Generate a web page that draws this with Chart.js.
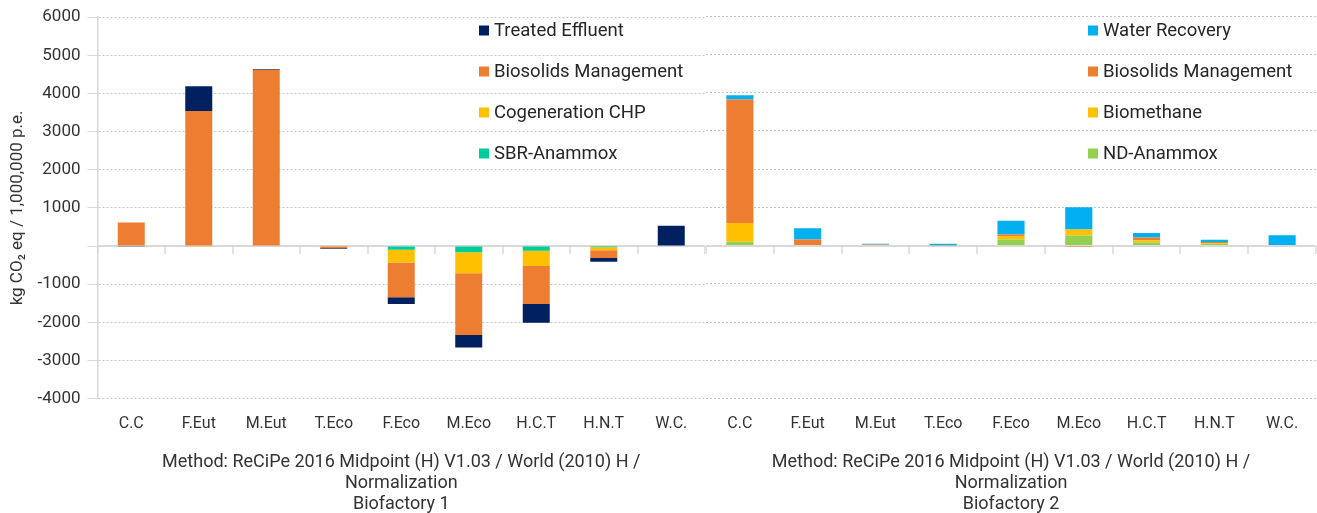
<!DOCTYPE html>
<html>
<head>
<meta charset="utf-8">
<script src="https://cdn.jsdelivr.net/npm/chart.js@4.4.1/dist/chart.umd.min.js"></script>
<style>
  html, body { margin: 0; padding: 0; background: #fff; }
  .wrap { position: relative; width: 1317px; height: 513px; }
  .panel { position: absolute; top: 0; height: 513px; }
  #bf1 { left: 0; width: 706px; }
  #bf2 { left: 706px; width: 611px; }
</style>
</head>
<body>
<div class="wrap">
  <div class="panel" id="bf1"><canvas id="chart1"></canvas></div>
  <div class="panel" id="bf2"><canvas id="chart2"></canvas></div>
</div>
<script>
const categories = ['C.C', 'F.Eut', 'M.Eut', 'T.Eco', 'F.Eco', 'M.Eco', 'H.C.T', 'H.N.T', 'W.C.'];
const yTicks = [-4000, -3000, -2000, -1000, 0, 1000, 2000, 3000, 4000, 5000, 6000];

// Biofactory 1 (bottom of stack first)
const sbrAnammox1 = [0, 0, 0, 0, -100, -160, -120, -30, 0];
const cogenerationChp1 = [0, -20, 0, 0, -330, -550, -400, -80, 0];
const biosolids1 = [620, 3540, 4620, -60, -910, -1620, -1000, -200, -15];
const treatedEffluent1 = [-20, 650, 20, -20, -180, -330, -490, -100, 530];

// Biofactory 2
const ndAnammox2 = [100, 0, 0, 0, 160, 260, 80, 45, 0];
const biomethane2 = [490, 0, 0, 0, 90, 160, 60, 25, 0];
const biosolids2 = [3230, 160, 30, 10, 40, -25, 70, 25, -10];
const waterRecovery2 = [110, 290, 15, 40, 360, 580, 120, 55, 270];

const methodTitle = 'Method: ReCiPe 2016 Midpoint (H) V1.03 / World (2010) H /';

Chart.defaults.font.family = 'Roboto, "Noto Sans", sans-serif';
Chart.defaults.color = '#333333';

// zero line + little category ticks hanging under it
const zeroLine = {
  id: 'zeroLine',
  beforeDatasetsDraw(chart) {
    const { ctx, chartArea, scales: { x, y } } = chart;
    const y0 = Math.round(y.getPixelForValue(0));
    ctx.save();
    ctx.strokeStyle = '#d9d9d9';
    ctx.lineWidth = 2;
    ctx.beginPath();
    ctx.moveTo(chartArea.left, y0);
    ctx.lineTo(chartArea.right, y0);
    ctx.stroke();
    ctx.lineWidth = 1.5;
    ctx.beginPath();
    for (let i = 0; i <= categories.length; i++) {
      const px = Math.round(x.getPixelForValue(i - 0.5));
      ctx.moveTo(px, y0);
      ctx.lineTo(px, y0 + 8);
    }
    ctx.stroke();
    ctx.restore();
  }
};

// legend drawn inside the plot, top series first
const insideLegend = {
  id: 'insideLegend',
  afterDraw(chart, args, opts) {
    const ctx = chart.ctx;
    const items = chart.data.datasets.slice().reverse();
    ctx.save();
    ctx.font = '18.5px Roboto, "Noto Sans", sans-serif';
    ctx.textBaseline = 'middle';
    items.forEach(function (ds, i) {
      const cy = opts.top + i * opts.spacing;
      ctx.fillStyle = ds.backgroundColor;
      ctx.fillRect(opts.left, cy - 5, 10, 10);
      ctx.fillStyle = '#262626';
      ctx.fillText(ds.label, opts.left + 15, cy + 1);
    });
    ctx.restore();
  }
};

function buildOptions(showAxis, subtitle, legendLeft) {
  return {
    responsive: true,
    maintainAspectRatio: false,
    animation: false,
    layout: { padding: { top: 16, right: 1, left: 0, bottom: 0 } },
    plugins: {
      legend: { display: false },
      tooltip: { enabled: false },
      insideLegend: { left: legendLeft, top: 30.5, spacing: 41 }
    },
    scales: {
      x: {
        stacked: true,
        grid: { display: false, drawTicks: false },
        border: { display: false },
        ticks: { padding: 16, maxRotation: 0, autoSkip: false, font: { size: 16 } },
        title: {
          display: true,
          text: [methodTitle, 'Normalization', subtitle],
          font: { size: 18, lineHeight: 1.17 },
          padding: { top: 2, bottom: -2 }
        }
      },
      y: {
        stacked: true,
        min: -4000,
        max: 6000,
        afterBuildTicks: function (scale) {
          scale.ticks = yTicks.map(function (v) { return { value: v }; });
        },
        afterFit: function (scale) {
          scale.width = showAxis ? 97.5 : 0;
        },
        grid: {
          color: function (c) { return c.tick && c.tick.value === 0 ? 'rgba(0,0,0,0)' : '#c4c4c4'; },
          tickColor: '#d9d9d9',
          tickLength: 10,
          drawTicks: showAxis
        },
        border: { display: showAxis, color: '#d9d9d9', width: 1.5, dash: [2, 2] },
        ticks: {
          display: showAxis,
          padding: 7,
          font: { size: 17 },
          callback: function (v) { return v === 0 ? '' : v; }
        },
        title: {
          display: showAxis,
          text: 'kg CO\u2082 eq / 1,000,000 p.e.',
          font: { size: 17 },
          padding: { top: 8, bottom: 0 }
        }
      }
    },
    datasets: { bar: { categoryPercentage: 1, barPercentage: 0.4 } }
  };
}

new Chart(document.getElementById('chart1'), {
  type: 'bar',
  data: {
    labels: categories,
    datasets: [
      { label: 'SBR-Anammox', data: sbrAnammox1, backgroundColor: '#00cc99' },
      { label: 'Cogeneration CHP', data: cogenerationChp1, backgroundColor: '#ffc000' },
      { label: 'Biosolids Management', data: biosolids1, backgroundColor: '#ed7d31' },
      { label: 'Treated Effluent', data: treatedEffluent1, backgroundColor: '#002060' }
    ]
  },
  options: buildOptions(true, 'Biofactory 1', 479),
  plugins: [zeroLine, insideLegend]
});

new Chart(document.getElementById('chart2'), {
  type: 'bar',
  data: {
    labels: categories,
    datasets: [
      { label: 'ND-Anammox', data: ndAnammox2, backgroundColor: '#92d050' },
      { label: 'Biomethane', data: biomethane2, backgroundColor: '#ffc000' },
      { label: 'Biosolids Management', data: biosolids2, backgroundColor: '#ed7d31' },
      { label: 'Water Recovery', data: waterRecovery2, backgroundColor: '#00b0f0' }
    ]
  },
  options: buildOptions(false, 'Biofactory 2', 382),
  plugins: [zeroLine, insideLegend]
});
</script>
</body>
</html>
